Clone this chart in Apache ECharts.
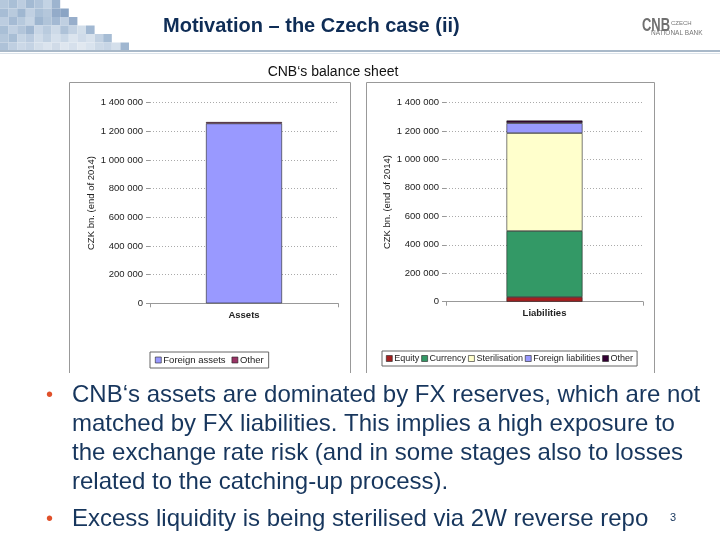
<!DOCTYPE html>
<html><head><meta charset="utf-8">
<script src="https://cdn.jsdelivr.net/npm/echarts@6/dist/echarts.min.js"></script>
<style>html,body{margin:0;padding:0;background:#fff}#c{width:720px;height:540px}</style>
</head><body><div id="c"></div>
<script>
// ---- data ----
const catAssets = ['Assets'];
const catLiab = ['Liabilities'];
const assetsForeign = [1255000];
const assetsOther = [10000];
const liabEquity = [33000];
const liabCurrency = [464000];
const liabSteril = [688000];
const liabForeign = [70000];
const liabOther = [18000];
const yMin = 0, yMax = 1400000, yStep = 200000;
const bullets = [
  ['CNB\u2018s assets are dominated by FX reserves, which are not',
   'matched by FX liabilities. This implies a high exposure to',
   'the exchange rate risk (and in some stages also to losses',
   'related to the catching-up process).'],
  ['Excess liquidity is being sterilised via 2W reverse repo']
];

const chart = echarts.init(document.getElementById('c'), null, {renderer:'canvas'});
const fmt = v => String(v).replace(/\B(?=(\d{3})+(?!\d))/g, ' ');
const F = 'Liberation Sans, Arial, sans-serif';

function yAxis(gi){
  return {type:'value', gridIndex:gi, min:yMin, max:yMax, interval:yStep,
    name:'CZK bn. (end of 2014)', nameLocation:'middle', nameGap:52, nameRotate:90,
    nameTextStyle:{fontSize:9.5, color:'#222', fontFamily:F},
    axisLine:{show:false}, axisTick:{show:true, length:4, lineStyle:{color:'#999'}},
    axisLabel:{formatter:fmt, fontSize:9.5, color:'#222', fontFamily:F, margin:7},
    splitLine:{lineStyle:{color:'#aaa', type:[1,2], width:1}}};
}
function xAxis(gi, data){
  return {type:'category', gridIndex:gi, data:data,
    axisLine:{lineStyle:{color:'#999'}}, axisTick:{show:true, length:4, lineStyle:{color:'#999'}},
    axisLabel:{fontSize:9.5, fontWeight:'bold', color:'#222', fontFamily:F, margin:7}};
}
function bar(name, gi, stack, data, color){
  return {name:name, type:'bar', xAxisIndex:gi, yAxisIndex:gi, stack:stack, data:data,
    barWidth:76, itemStyle:{color:color, borderColor:'#222', borderWidth:0.6}};
}

// decorative header mosaic
const mosaicRows = [
  ['#b5c8dc','#a9bfd6','#bccde0','#a3bad3','#b0c4da','#c3d3e4','#9db4cf'],
  ['#a7bdd5','#b8cadd','#9fb7d1','#c0d0e2','#aac0d7','#b4c7db','#93abc9','#8aa4c4'],
  ['#bccde0','#a5bbd4','#b6c9dd','#c6d5e5','#9eb6d0','#b0c4d9','#a3b9d3','#bfcfe1','#97aecb'],
  ['#a9bfd6','#c0d0e2','#b2c5da','#a0b7d1','#c8d6e6','#b9cbde','#cddae8','#aec2d8','#c3d2e3','#d2deea','#a1b8d2'],
  ['#b4c7db','#a8bed5','#c5d4e4','#bacbdf','#d0dce9','#c1d1e2','#d5e0ec','#c9d7e6','#dbe4ee','#cfdbe9','#d8e2ed','#c2d1e2','#a6bcd4'],
  ['#aec2d8','#bfcfe1','#cbd8e7','#c4d3e4','#d3deea','#dbe4ee','#d0dbe8','#dee6ef','#d6e0ec','#e1e8f0','#d9e3ee','#ccd9e7','#c7d5e5','#d4dfeb','#9fb6d0']
];
const gfx = [];
mosaicRows.forEach((row, r) => row.forEach((c, i) => {
  gfx.push({type:'rect', shape:{x:i*8.6, y:r*8.5, width:8.6, height:8.5}, style:{fill:c}, silent:true});
}));
gfx.push({type:'rect', shape:{x:0, y:50, width:720, height:2}, style:{fill:'#a9b9c9'}});
gfx.push({type:'rect', shape:{x:0, y:53, width:720, height:1}, style:{fill:'#dbe3ea'}});
gfx.push({type:'text', style:{text:'Motivation \u2013 the Czech case (ii)', x:163, y:26, textVerticalAlign:'middle',
  font:'bold 20px "Liberation Sans Narrow", "Liberation Sans", Arial', fill:'#0f2d56'}});
gfx.push({type:'text', x:642, y:26, scaleX:0.72, style:{text:'CNB', x:0, y:0, textVerticalAlign:'middle',
  font:'bold 18px "Liberation Sans Narrow", "Liberation Sans"', fill:'#6f6f6f'}});
gfx.push({type:'text', style:{text:'CZECH', x:671, y:23, textVerticalAlign:'middle', font:'6px "Liberation Sans"', fill:'#777'}});
gfx.push({type:'text', style:{text:'NATIONAL BANK', x:651, y:33, textVerticalAlign:'middle', font:'6.5px "Liberation Sans Narrow", "Liberation Sans"', fill:'#777'}});
gfx.push({type:'text', style:{text:'CNB\u2018s balance sheet', x:333, y:72, textAlign:'center', textVerticalAlign:'middle',
  font:'14px "Liberation Sans", Arial', fill:'#111'}});
// panel frames
gfx.push({type:'polyline', shape:{points:[[69.5,373],[69.5,82.5],[350.5,82.5],[350.5,373]]}, style:{fill:null, stroke:'#999', lineWidth:1}});
gfx.push({type:'polyline', shape:{points:[[366.5,373],[366.5,82.5],[654.5,82.5],[654.5,373]]}, style:{fill:null, stroke:'#999', lineWidth:1}});
// bullets
let ys = [[395,424,453,482],[519]];
bullets.forEach((lines, b) => {
  gfx.push({type:'text', style:{text:'\u2022', x:46, y:ys[b][0], textVerticalAlign:'middle', font:'20px "Liberation Sans"', fill:'#e0502a'}});
  lines.forEach((t, i) => gfx.push({type:'text', style:{text:t, x:72, y:ys[b][i], textVerticalAlign:'middle',
    font:'24px "Liberation Sans", Arial', fill:'#17365d'}}));
});
gfx.push({type:'text', style:{text:'3', x:670, y:518, textVerticalAlign:'middle', font:'11px "Liberation Sans"', fill:'#17365d'}});

const legendCommon = {orient:'horizontal', itemWidth:6, itemHeight:6, icon:'rect',
  borderColor:'#666', borderWidth:1, itemStyle:{borderColor:'#222', borderWidth:0.6},
  formatter: n => n.trim()};

chart.setOption({
  animation:false,
  graphic:gfx,
  grid:[{left:150, right:382, top:102.7, bottom:236.7}, {left:446, right:77, top:102.5, bottom:238.3}],
  xAxis:[xAxis(0, catAssets), xAxis(1, catLiab)],
  yAxis:[yAxis(0), yAxis(1)],
  legend:[
    Object.assign({}, legendCommon, {data:['Foreign assets','Other'], left:150, top:352, itemGap:6, padding:[3,5],
      textStyle:{fontSize:9.5, color:'#222', fontFamily:F, padding:[0,0,0,-3]}}),
    Object.assign({}, legendCommon, {data:['Equity','Currency','Sterilisation','Foreign liabilities','Other '], left:382, top:351, itemGap:2, padding:[3,4],
      textStyle:{fontSize:9, color:'#222', fontFamily:F, padding:[0,0,0,-3]}})
  ],
  series:[
    bar('Foreign assets', 0, 'a', assetsForeign, '#9999ff'),
    bar('Other', 0, 'a', assetsOther, '#993366'),
    bar('Equity', 1, 'l', liabEquity, '#a52020'),
    bar('Currency', 1, 'l', liabCurrency, '#339966'),
    bar('Sterilisation', 1, 'l', liabSteril, '#ffffcc'),
    bar('Foreign liabilities', 1, 'l', liabForeign, '#9999ff'),
    bar('Other ', 1, 'l', liabOther, '#330033')
  ]
});
</script></body></html>
